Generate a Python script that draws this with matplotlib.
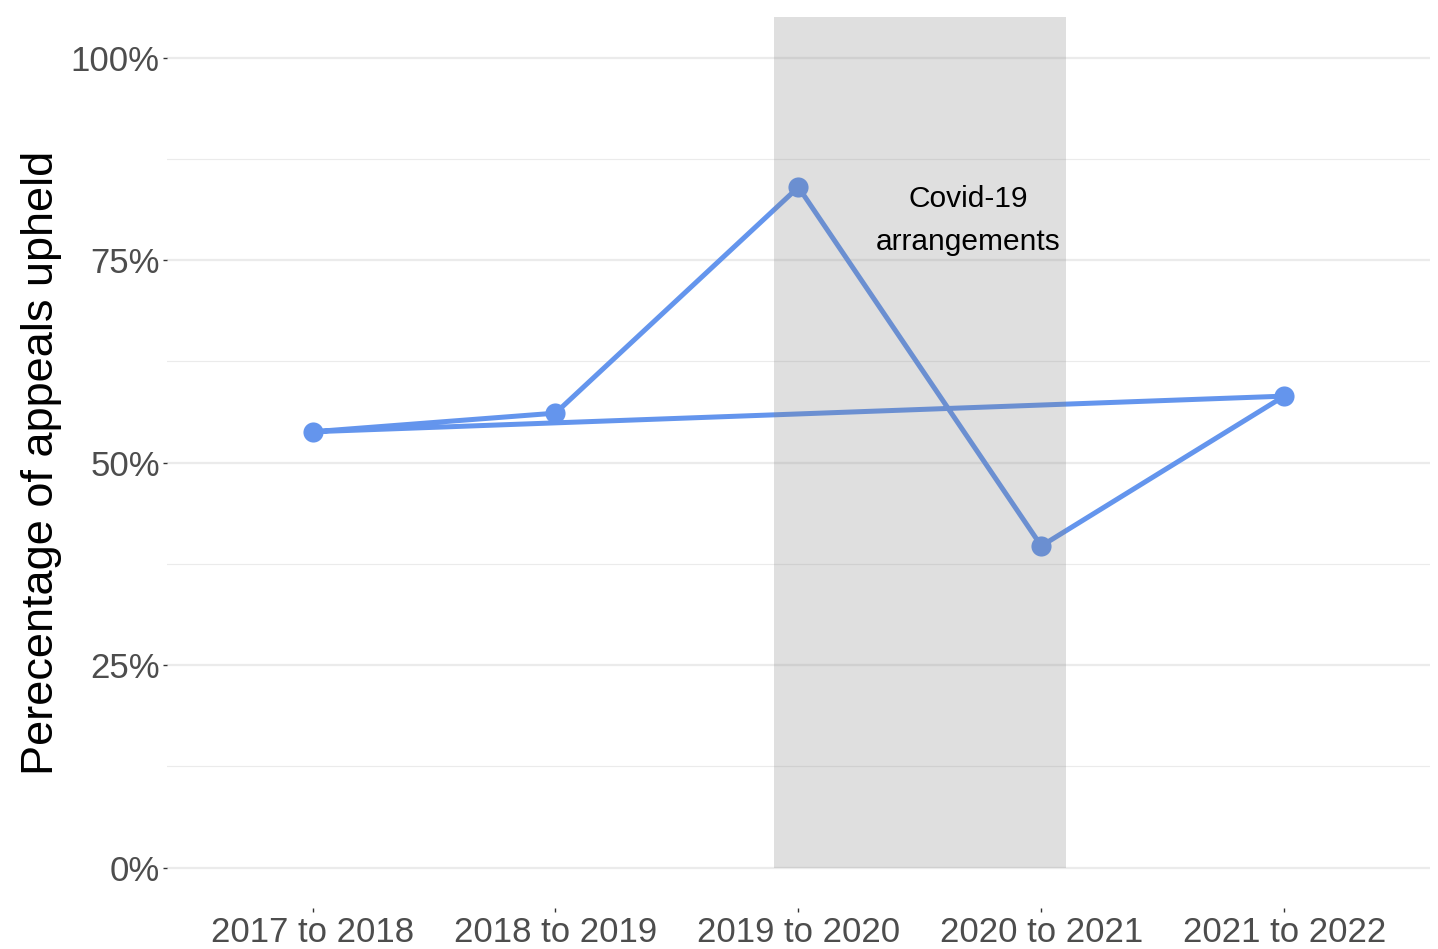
import matplotlib.pyplot as plt

plt.rcParams["font.family"] = ["Liberation Sans", "DejaVu Sans"]

# Data
YEARS = ["2017 to 2018", "2018 to 2019", "2019 to 2020", "2020 to 2021", "2021 to 2022"]
PCT_UPHELD = [53.8, 56.1, 84.0, 39.7, 58.2]
Y_TICKS = [0, 25, 50, 75, 100]
Y_TICK_LABELS = ["0%", "25%", "50%", "75%", "100%"]
COVID_START = 2.9   # category positions (1-based)
COVID_END = 4.1

LINE_COL = "#6495ED"


def main():
    fig = plt.figure(figsize=(14.38, 9.49), dpi=100)
    ax = fig.add_axes([0.116, 0.0432, 0.8784, 0.9388])

    xs = list(range(1, len(YEARS) + 1))

    # path drawn in data order, closing back to the first year
    path_x = xs + [xs[0]]
    path_y = PCT_UPHELD + [PCT_UPHELD[0]]
    ax.plot(path_x, path_y, color=LINE_COL, linewidth=3.6, zorder=3,
            solid_capstyle="butt")
    ax.scatter(xs, PCT_UPHELD, s=210, color=LINE_COL, zorder=4, linewidths=0)

    # covid shading sits on top of the line, from 0% to the panel top
    ax.fill_between([COVID_START, COVID_END], 0, 105,
                    color="#808080", alpha=0.25, linewidth=0, zorder=5)
    ax.text(3.70, 79.9, "Covid-19\narrangements", ha="center", va="center",
            fontsize=21.5, color="black", linespacing=1.65, zorder=6)

    ax.set_xlim(0.4, 5.6)
    ax.set_ylim(-5, 105)

    ax.set_xticks(xs)
    ax.set_xticklabels(YEARS)
    ax.set_yticks(Y_TICKS)
    ax.set_yticklabels(Y_TICK_LABELS)
    ax.set_yticks([12.5, 37.5, 62.5, 87.5], minor=True)

    ax.grid(axis="y", which="major", color="#EBEBEB", linewidth=1.6, zorder=0)
    ax.grid(axis="y", which="minor", color="#EBEBEB", linewidth=0.8, zorder=0)
    ax.grid(axis="x", visible=False)
    ax.set_axisbelow(True)

    for s in ax.spines.values():
        s.set_visible(False)

    ax.tick_params(axis="both", which="major", length=3, width=1,
                   color="#333333", labelcolor="#4D4D4D", labelsize=25, pad=2)
    ax.tick_params(axis="y", which="minor", length=0)
    ax.tick_params(axis="x", pad=3)

    ax.set_ylabel("Perecentage of appeals upheld", fontsize=32.5, color="black",
                  va="center")
    ax.yaxis.set_label_coords(-0.099, 0.5)

    fig.savefig("out.png", dpi=100)
    plt.close(fig)


if __name__ == "__main__":
    main()
